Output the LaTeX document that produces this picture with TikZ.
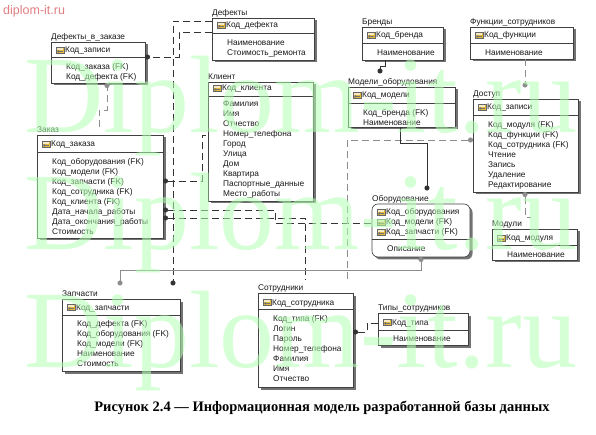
\documentclass[tikz,border=0pt]{standalone}
\usepackage{fontspec}
\setmainfont{Liberation Serif}
\newfontfamily\ersans{Liberation Sans}
\usetikzlibrary{arrows.meta}
\definecolor{wmgreen}{RGB}{180,255,180}
\definecolor{keygold}{RGB}{228,186,60}
\definecolor{sitered}{RGB}{225,125,130}
\definecolor{ink}{RGB}{25,25,25}
\tikzset{
  etext/.style={font=\ersans\fontsize{8.3}{10}\selectfont, text=ink, inner sep=0pt, align=left},
  etitle/.style={font=\ersans\fontsize{8.3}{10}\selectfont, text=ink, inner sep=0pt},
  ebox/.style={draw=black!75, line width=0.6pt, fill=white, inner sep=0pt, outer sep=0pt},
  eshadow/.style={fill=black!55},
  esep/.style={draw=black!75, line width=0.6pt},
  rel/.style={draw=black!80, line width=0.7pt, dash pattern=on 7pt off 4pt},
  relg/.style={draw=black!45, line width=0.7pt, dash pattern=on 7pt off 4pt},
  idrel/.style={draw=black!80, line width=0.7pt},
  idrelg/.style={draw=black!45, line width=0.7pt},
  edot/.tip={Circle[length=5pt]},
  wmark/.style={font=\fontsize{110}{110}\selectfont, text=wmgreen, opacity=0.55, text opacity=0.55, inner sep=0pt, anchor=base west},
  keyicon/.pic={
    \draw[black!60, fill=keygold, line width=0.3pt] (-3.8,-3.3) rectangle (3.8,3.3);
    \fill[white!70!keygold] (-2.6,-2.2) rectangle (2.6,0.2);
    \fill[black!55] (-1.6,1.4) circle (1.3);
    \draw[black!55, line width=0.7pt] (-1.6,1.4) -- (3,1.4);
  }
}
% #1 extra style, #2 name, #3 left, #4 top, #5 width, #6 height, #7 separator y, #8 title
\newcommand{\erent}[8][]{%
  \fill[eshadow,#1] (#3+2.5,#4+2.5) rectangle ++(#5,#6);
  \node[ebox,#1,minimum width=#5pt,minimum height=#6pt,anchor=north west] (#2) at (#3,#4) {};
  \draw[esep] (#3,#7) -- (#3+#5,#7);
  \node[etitle,anchor=base west] (#2-t) at (#3,#4-2.5) {#8};
}
% key row: #1 name, #2 left, #3 row y, #4 text
\newcommand{\erkey}[4]{%
  \pic at (#2+9,#3) {keyicon};
  \node[etext,anchor=base west] (#1) at (#2+14,#3+3) {#4};
}
% attribute block: #1 name, #2 left, #3 first row y, #4 lines
\newcommand{\erattr}[4]{%
  \node[etext,anchor=north west] (#1) at (#2+15,#3-4) {\rule{0pt}{7pt}#4};
}
\begin{document}
\begin{tikzpicture}[x=1pt,y=-1pt]
\useasboundingbox (0,0) rectangle (596,435);
\fill[white] (0,0) rectangle (596,435);

% ---------- entities ----------
\erent{dvz}{51}{42}{94}{41}{57}{Дефекты\_в\_заказе}
\erkey{dvz-k}{51}{50}{Код\_записи}
\erattr{dvz-a}{51}{66}{Код\_заказа (FK)\\Код\_дефекта (FK)}

\erent{def}{212}{18}{102}{42}{33}{Дефекты}
\erkey{def-k}{212}{25}{Код\_дефекта}
\erattr{def-a}{212}{42}{Наименование\\Стоимость\_ремонта}

\erent{kli}{208}{82}{105}{119}{96}{Клиент}
\erkey{kli-k}{208}{88}{Код\_клиента}
\erattr{kli-a}{208}{103}{Фамилия\\Имя\\Отчество\\Номер\_телефона\\Город\\Улица\\Дом\\Квартира\\Паспортные\_данные\\Место\_работы}

\erent{bre}{362}{27}{81}{33}{43}{Бренды}
\erkey{bre-k}{362}{35}{Код\_бренда}
\erattr{bre-a}{362}{52}{Наименование}

\erent{fun}{470}{27}{103}{32}{43}{Функции\_сотрудников}
\erkey{fun-k}{470}{35}{Код\_функции}
\erattr{fun-a}{470}{52}{Наименование}

\erent{mod}{348}{87}{107}{40}{103}{Модели\_оборудования}
\erkey{mod-k}{348}{95}{Код\_модели}
\erattr{mod-a}{348}{112}{Код\_бренда (FK)\\Наименование}

\erent{dos}{473}{99}{105}{93}{115}{Доступ}
\erkey{dos-k}{473}{107}{Код\_записи}
\erattr{dos-a}{473}{124}{Код\_модуля (FK)\\Код\_функции (FK)\\Код\_сотрудника (FK)\\Чтение\\Запись\\Удаление\\Редактирование}

\erent[rounded corners=6pt]{obo}{372}{204}{98}{53}{239}{Оборудование}
\erkey{obo-k1}{372}{212}{Код\_оборудования}
\erkey{obo-k2}{372}{222}{Код\_модели (FK)}
\erkey{obo-k3}{372}{232}{Код\_запчасти (FK)}
\erattr{obo-a}{372}{248}{Описание}

\erent{mdl}{492}{229}{85}{31}{245}{Модули}
\erkey{mdl-k}{492}{238}{Код\_модуля}
\erattr{mdl-a}{492}{254}{Наименование}

\erent{zak}{37}{135}{126}{103}{152}{Заказ}
\erkey{zak-k}{37}{144}{Код\_заказа}
\erattr{zak-a}{37}{161}{Код\_оборудования (FK)\\Код\_модели (FK)\\Код\_запчасти (FK)\\Код\_сотрудника (FK)\\Код\_клиента (FK)\\Дата\_начала\_работы\\Дата\_окончания\_работы\\Стоимость}

\erent{zap}{62}{299}{118}{72}{315}{Запчасти}
\erkey{zap-k}{62}{307}{Код\_запчасти}
\erattr{zap-a}{62}{323}{Код\_дефекта (FK)\\Код\_оборудования (FK)\\Код\_модели (FK)\\Наименование\\Стоимость}

\erent{sot}{258}{293}{95}{94}{309}{Сотрудники}
\erkey{sot-k}{258}{302}{Код\_сотрудника}
\erattr{sot-a}{258}{318}{Код\_типа (FK)\\Логин\\Пароль\\Номер\_телефона\\Фамилия\\Имя\\Отчество}

\erent{tip}{378}{313}{90}{32}{330}{Типы\_сотрудников}
\erkey{tip-k}{378}{322}{Код\_типа}
\erattr{tip-a}{378}{338}{Наименование}

% ---------- relationships ----------
\draw[rel,-edot] (def.west |- 0,32) -| (179,57) -- (dvz.east |- 0,57);
\draw[rel,-edot,shorten >=13.5pt] (def.west |- 0,21) -| (zap.north -| 173,0);
\draw[relg,-edot,shorten <=8pt] (zak.north -| 99,0) |- (107,110) -- (dvz.south -| 107,0);
\draw[rel,edot-] (zak.east |- 0,181) -| (202,135) -- (kli.west |- 0,135);
\draw[rel,edot-] (zak.east |- 0,210) -| (275,223) -- (obo.west |- 0,223);
\draw[rel,edot-,shorten >=14pt] (zak.east |- 0,218) -| (sot.north -| 305,0);
\draw[relg,-edot,shorten <=14pt] (sot.north -| 347,0) |- (dos.west |- 0,140);
\draw[idrel,-edot,shorten >=13.5pt] (bre.south -| 385,0) |- (380,66) -- (mod.north -| 380,0);
\draw[relg,-edot,shorten >=11.5pt] (fun.south -| 525,0) -- (dos.north -| 525,0);
\draw[idrel,-edot,shorten >=13.5pt] (mod.south -| 400,0) |- (427,143) -- (obo.north -| 427,0);
\coordinate (mdl-c) at (531,217);
\draw[relg,edot-] (dos.south -| 525,0) |- (mdl-c);
\draw[rel,edot-] (sot.east |- 0,332) -| (367,323) -- (tip.west |- 0,323);
\draw[idrelg,edot-edot,shorten >=13.5pt] (obo.south -| 421,0) |- (120,270) -- (zap.north -| 120,0);

% ---------- caption and marks ----------
\node[font=\bfseries\fontsize{14.5}{17}\selectfont, inner sep=0pt] (cap) at (322,408) {Рисунок 2.4 — Информационная модель разработанной базы данных};
\node[font=\ersans\fontsize{12.5}{15}\selectfont, text=sitered, inner sep=0pt, anchor=base west] (site) at (3,15) {diplom-it.ru};

\node[wmark] (wm1) at (24,133) {Diplom-it.ru};
\node[wmark] (wm2) at (24,250) {Diplom-it.ru};
\node[wmark] (wm3) at (24,367) {Diplom-it.ru};
\end{tikzpicture}
\end{document}
